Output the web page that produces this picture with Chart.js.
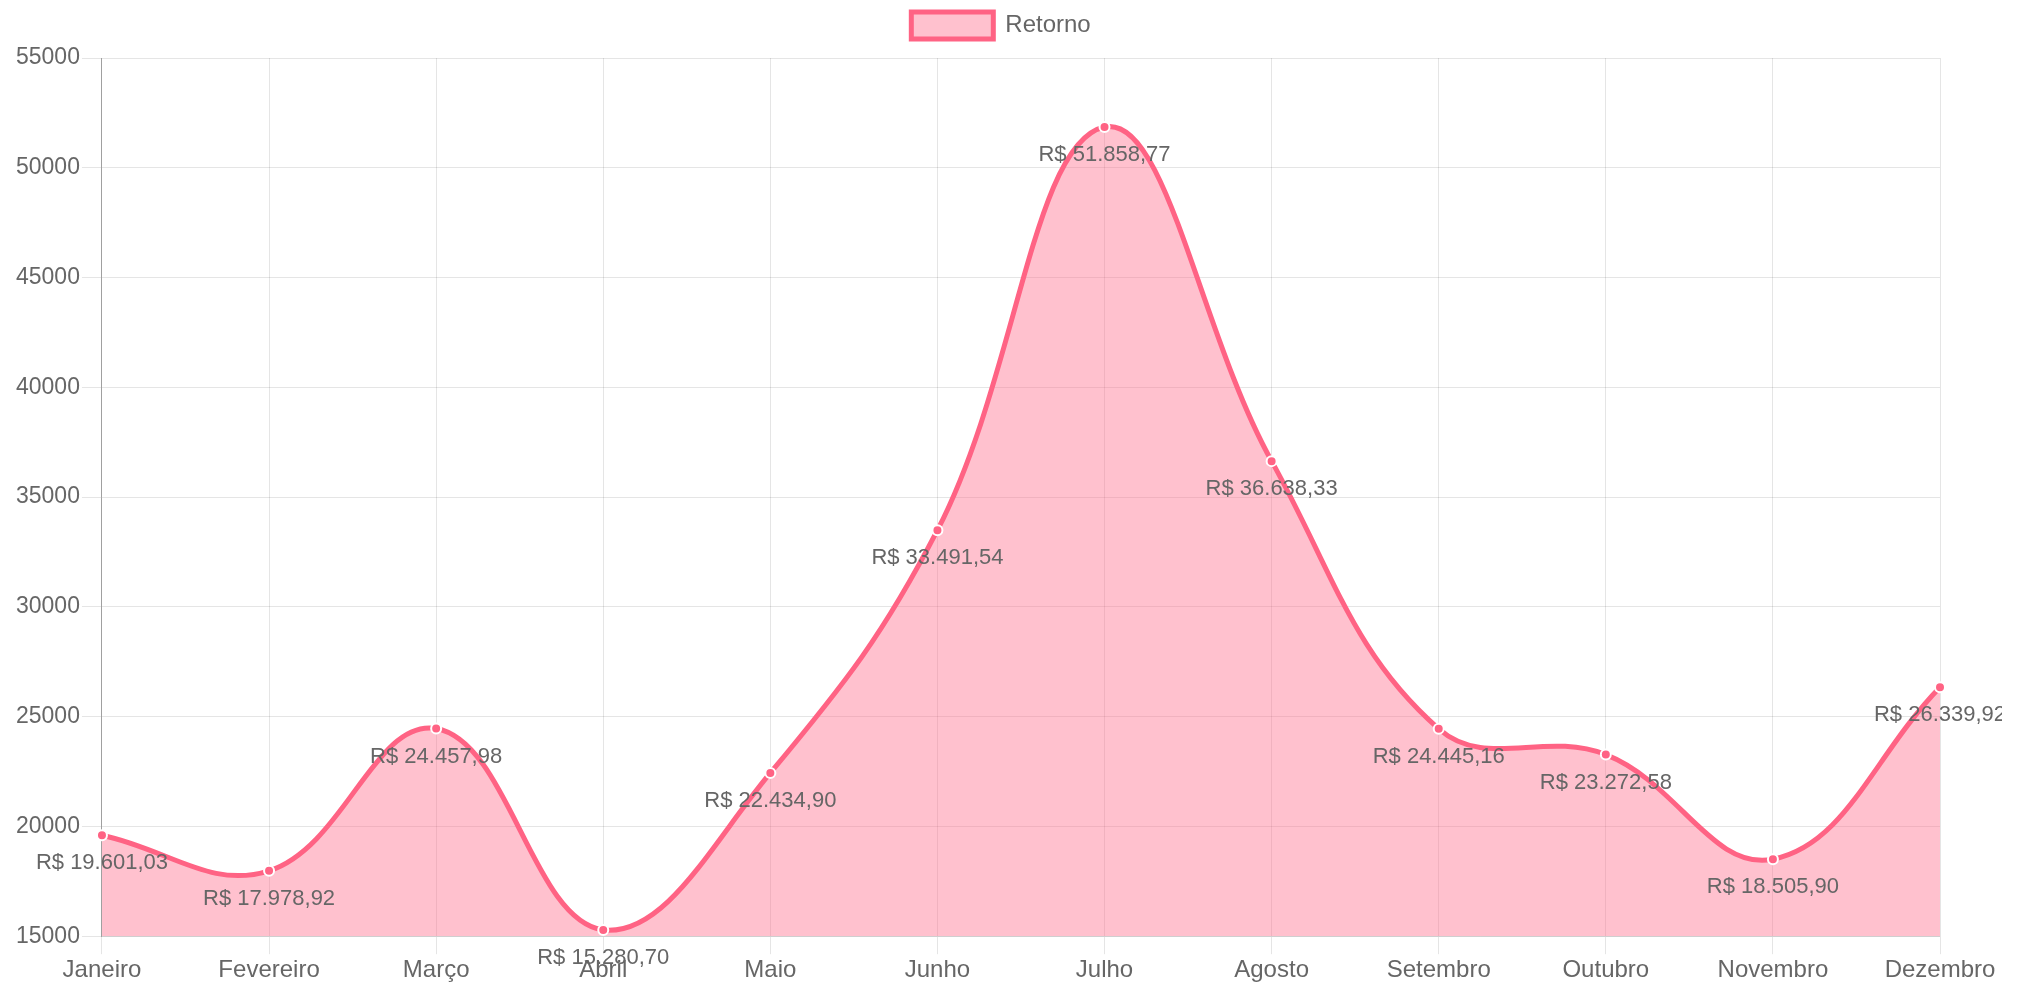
<!DOCTYPE html>
<html>
<head>
<meta charset="utf-8">
<script src="https://cdn.jsdelivr.net/npm/chart.js@4"></script>
<style>
  html, body { margin: 0; padding: 0; background: #fff; overflow: hidden; }
  #wrap { position: relative; width: 2002px; height: 987px; }
</style>
</head>
<body>
<div id="wrap"><canvas id="retornoChart"></canvas></div>
<script>
const meses = ["Janeiro", "Fevereiro", "Março", "Abril", "Maio", "Junho",
  "Julho", "Agosto", "Setembro", "Outubro", "Novembro", "Dezembro"];
const retorno = [19601.03, 17978.92, 24457.98, 15280.70, 22434.90, 33491.54,
  51858.77, 36638.33, 24445.16, 23272.58, 18505.90, 26339.92];
const yMin = 15000;
const yMax = 55000;
const yStep = 5000;

const fonte = "Arial, 'Liberation Sans', sans-serif";

function formatBRL(v) {
  const parts = v.toFixed(2).split(".");
  const inteiro = parts[0].replace(/\B(?=(\d{3})+(?!\d))/g, ".");
  return "R$ " + inteiro + "," + parts[1];
}

// desenha o valor abaixo de cada ponto
const valueLabels = {
  id: "valueLabels",
  afterDatasetsDraw(chart) {
    const c = chart.ctx;
    const meta = chart.getDatasetMeta(0);
    c.save();
    c.font = "22px " + fonte;
    c.fillStyle = "#666";
    c.textAlign = "center";
    c.textBaseline = "middle";
    meta.data.forEach((pt, i) => {
      c.fillText(formatBRL(retorno[i]), pt.x, pt.y + 28);
    });
    c.restore();
  }
};

// espaço extra abaixo da legenda e legenda centrada no canvas todo
const legendSpace = {
  id: "legendSpace",
  beforeInit(chart) {
    const fitOrig = chart.legend.fit;
    chart.legend.fit = function () {
      fitOrig.bind(chart.legend)();
      this.height += 9;
    };
  },
  afterLayout(chart) {
    const lg = chart.legend;
    lg.left = 0;
    lg.right = chart.width;
    lg.width = chart.width;
  }
};

const ctx = document.getElementById("retornoChart").getContext("2d");

new Chart(ctx, {
  type: "line",
  data: {
    labels: meses,
    datasets: [{
      label: "Retorno",
      data: retorno,
      borderColor: "#ff6384",
      backgroundColor: "rgba(255,99,132,0.4)",
      borderWidth: 5,
      fill: true,
      tension: 0.4,
      pointRadius: 5,
      pointBackgroundColor: "#ff6384",
      pointBorderColor: "#fff",
      pointBorderWidth: 2
    }]
  },
  options: {
    responsive: true,
    maintainAspectRatio: false,
    animation: false,
    layout: { padding: { left: 14, right: 62, top: 0, bottom: 0 } },
    plugins: {
      legend: {
        labels: {
          boxWidth: 82,
          boxHeight: 27,
          color: "#666",
          padding: 12,
          font: { size: 24, family: fonte }
        }
      },
      tooltip: { enabled: false }
    },
    scales: {
      x: {
        grid: { color: "rgba(0,0,0,0.1)", tickLength: 18 },
        border: { color: "rgba(0,0,0,0.1)" },
        ticks: {
          color: "#666",
          maxRotation: 0,
          padding: 2,
          font: { size: 24, family: fonte }
        }
      },
      y: {
        min: yMin,
        max: yMax,
        grid: { color: "rgba(0,0,0,0.1)", tickLength: 20 },
        border: { color: "rgba(0,0,0,0.3)" },
        ticks: {
          stepSize: yStep,
          color: "#666",
          padding: 2,
          callback: v => String(v),
          font: { size: 23, family: fonte }
        }
      }
    }
  },
  plugins: [valueLabels, legendSpace]
});
</script>
</body>
</html>
